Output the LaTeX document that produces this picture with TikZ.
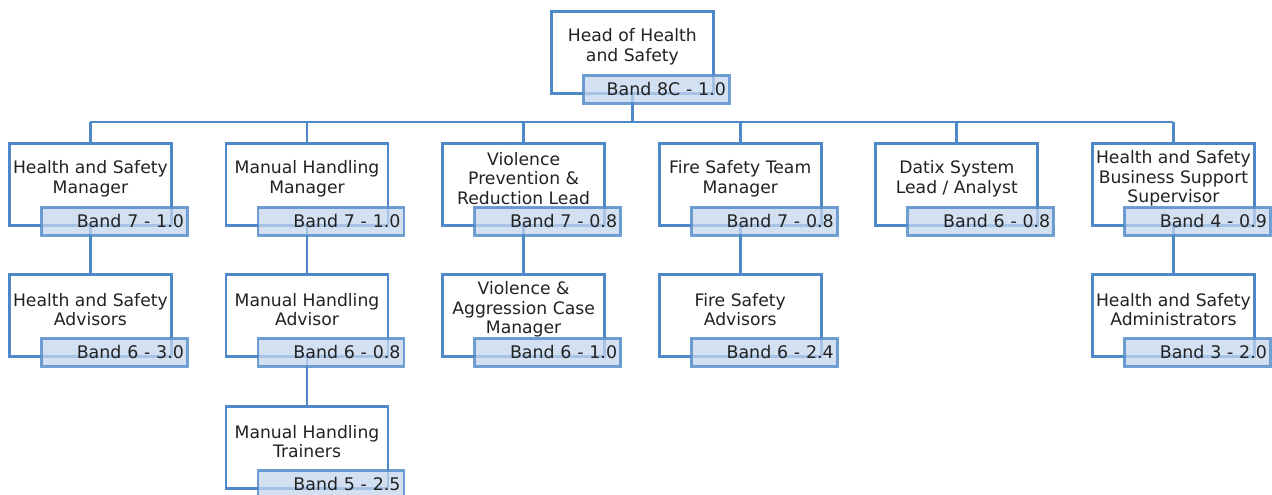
\documentclass[tikz,border=0pt]{standalone}
\usepackage{fontspec}
\setmainfont{DejaVu Sans}
\definecolor{bline}{RGB}{78,136,200}
\definecolor{bfill}{RGB}{196,214,238}
\definecolor{txt}{RGB}{34,34,34}
\begin{document}
\begin{tikzpicture}[x=1pt,y=-1pt,
  mainbox/.style={draw=bline,line width=2.8pt,fill=white,rectangle,minimum width=162pt,minimum height=82pt,anchor=north west,inner sep=0pt},
  bandbox/.style={draw=bline,draw opacity=0.8,line width=2.8pt,fill=bfill,fill opacity=0.75,text opacity=1,rectangle,minimum height=28pt,text width=139pt,inner xsep=3.5pt,inner ysep=0pt,align=right,anchor=north west,font=\fontsize{17.4}{19}\selectfont,text=txt},
  titletext/.style={align=center,font=\fontsize{17.2}{19.6}\selectfont,text=txt,inner sep=0pt},
  conn/.style={draw=bline,line width=2.8pt}
]
\useasboundingbox (0,0) rectangle (1272,495);

\newcommand{\orgbox}[4]{%
  \node[mainbox] (#1) at (#2,#3) {};
  \node[titletext] (#1t) at ([yshift=-36.5pt]#1.north) {#4};
}
\newcommand{\bandof}[2]{%
  \node[bandbox] (#1b) at ([xshift=32pt,yshift=-64pt]#1.north west) {#2};
}

\coordinate (bus) at (631,122);

\orgbox{head}{550}{10}{Head of Health\\and Safety}
\orgbox{a}{8}{142}{Health and Safety\\Manager}
\orgbox{b}{224.6}{142}{Manual Handling\\Manager}
\orgbox{c}{441.2}{142}{Violence\\Prevention \&\\Reduction Lead}
\orgbox{d}{657.8}{142}{Fire Safety Team\\Manager}
\orgbox{e}{874.4}{142}{Datix System\\Lead / Analyst}
\orgbox{f}{1091}{142}{Health and Safety\\Business Support\\Supervisor}
\orgbox{a2}{8}{273}{Health and Safety\\Advisors}
\orgbox{b2}{224.6}{273}{Manual Handling\\Advisor}
\orgbox{c2}{441.2}{273}{Violence \&\\Aggression Case\\Manager}
\orgbox{d2}{657.8}{273}{Fire Safety\\Advisors}
\orgbox{f2}{1091}{273}{Health and Safety\\Administrators}
\orgbox{b3}{224.6}{405}{Manual Handling\\Trainers}

% connectors
\draw[conn] (head.south) -- (head.south |- bus);
\draw[conn] (a.north |- bus) -- (f.north |- bus);
\foreach \n in {a,b,c,d,e,f}{\draw[conn] (\n.north |- bus) -- (\n.north);}
\draw[conn] (a.south) -- (a2.north);
\draw[conn] (b.south) -- (b2.north);
\draw[conn] (b2.south) -- (b3.north);
\draw[conn] (c.south) -- (c2.north);
\draw[conn] (d.south) -- (d2.north);
\draw[conn] (f.south) -- (f2.north);

% bands
\bandof{head}{Band 8C - 1.0}
\bandof{a}{Band 7 - 1.0}
\bandof{b}{Band 7 - 1.0}
\bandof{c}{Band 7 - 0.8}
\bandof{d}{Band 7 - 0.8}
\bandof{e}{Band 6 - 0.8}
\bandof{f}{Band 4 - 0.9}
\bandof{a2}{Band 6 - 3.0}
\bandof{b2}{Band 6 - 0.8}
\bandof{c2}{Band 6 - 1.0}
\bandof{d2}{Band 6 - 2.4}
\bandof{f2}{Band 3 - 2.0}
\bandof{b3}{Band 5 - 2.5}
\end{tikzpicture}
\end{document}
